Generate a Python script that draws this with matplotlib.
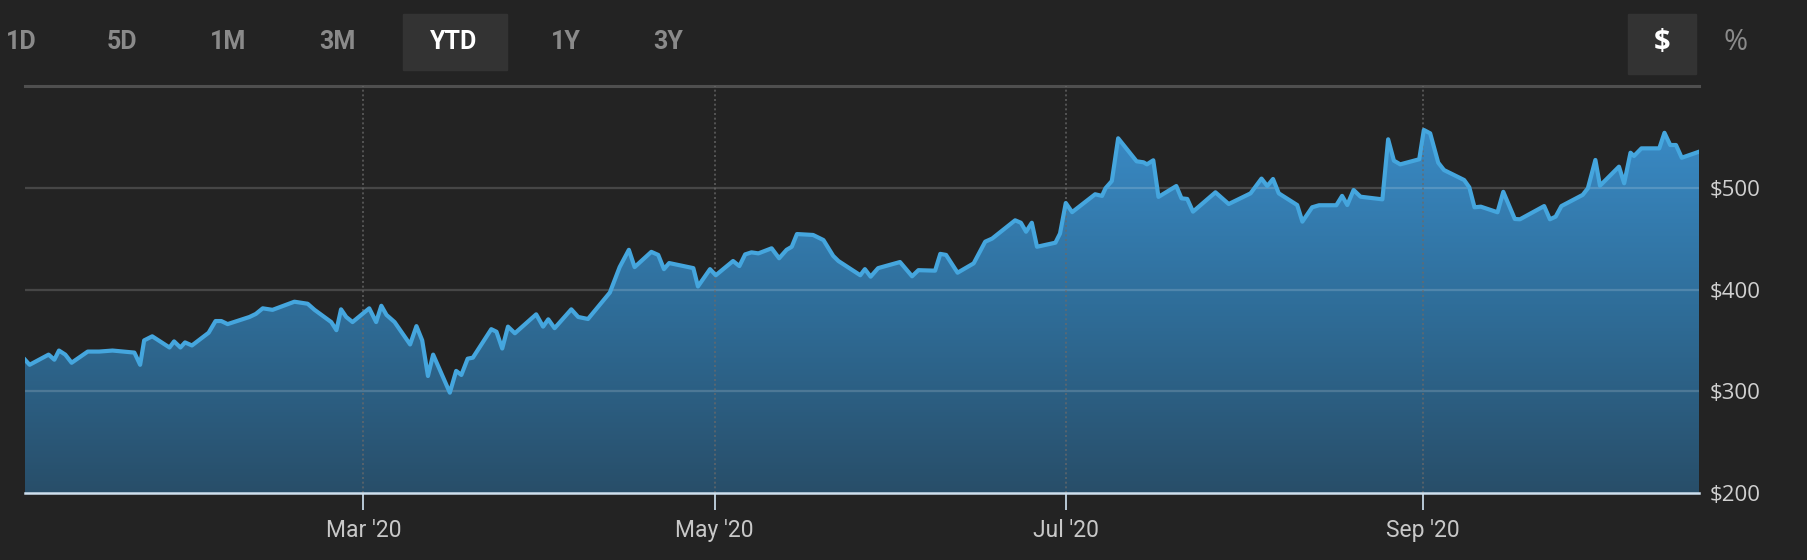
import matplotlib
matplotlib.use("Agg")
import matplotlib.pyplot as plt
import matplotlib.dates as mdates
from matplotlib.colors import LinearSegmentedColormap
from matplotlib.patches import Rectangle
import numpy as np
import pandas as pd

# day of year 2020 (Jan 1 = 0) and closing price
day = [1.2, 2.0, 5.3, 6.3, 7.1, 8.2, 9.3, 12.1, 14.1, 16.4, 20.2, 21.2, 21.9, 23.3,
       26.3, 27.1, 28.2, 29.0, 30.2, 33.1, 34.3, 35.3, 36.4, 40.2, 41.3, 42.5, 44.2,
       48.0, 50.3, 51.5, 54.4, 55.3, 56.1, 57.0, 58.1, 61.0, 62.2, 63.1, 64.0, 65.4,
       68.1, 69.2, 70.2, 71.2, 72.1, 75.0, 76.1, 77.0, 78.1, 79.0, 82.2, 83.1, 84.1,
       85.1, 86.3, 90.0, 91.2, 92.1, 93.2, 96.1, 97.3, 99.0, 102.8, 104.5, 106.1,
       107.1, 110.0, 111.2, 112.2, 113.1, 117.3, 118.1, 120.2, 121.2, 124.2, 125.3,
       126.3, 127.4, 128.6, 130.9, 132.2, 133.5, 134.4, 135.3, 138.1, 139.9, 141.6,
       142.5, 146.3, 147.1, 148.1, 149.4, 153.2, 155.3, 156.4, 159.3, 160.2, 161.2,
       163.2, 166.0, 168.0, 169.2, 173.2, 174.2, 175.1, 176.1, 177.0, 180.2, 181.0,
       182.0, 183.1, 187.1, 188.3, 188.9, 190.0, 191.1, 194.3, 195.5, 196.1, 197.2,
       198.1, 201.2, 202.1, 203.1, 204.1, 208.0, 210.3, 214.1, 216.0, 217.0, 218.0,
       219.0, 222.2, 223.1, 224.8, 226.0, 229.0, 230.0, 230.9, 232.0, 233.2, 237.0,
       238.0, 239.0, 240.1, 243.4, 244.2, 245.3, 246.7, 247.7, 251.2, 252.1, 253.0,
       254.1, 257.0, 258.0, 260.0, 260.9, 265.1, 266.1, 267.1, 268.1, 271.8, 272.7,
       274.0, 274.8, 278.1, 279.0, 280.1, 280.7, 282.0, 285.1, 286.0, 287.0, 288.0,
       289.0, 292.0]
price = [331, 326, 336, 331, 340, 336, 328, 339, 339, 340, 338, 326, 350, 354,
         343, 349, 343, 348, 345, 357.5, 369, 369, 366, 373, 376, 381.5, 380,
         388, 386, 380, 368, 360, 380.5, 373, 368, 381.5, 368, 384, 375, 368,
         346, 364, 350, 315, 336, 298.6, 320, 316, 332, 333, 361, 358.5, 342,
         363.5, 357, 375.6, 363.5, 370.7, 362, 380.5, 373, 371, 397, 422, 439,
         422, 437, 434, 420, 426, 421, 403, 420, 414, 428, 423,
         434.5, 436.5, 435.5, 440.5, 430.7, 439, 442, 454.5, 453.6, 448.6, 433,
         428, 414, 420, 412.6, 421, 427, 413, 419, 418.5, 435, 434,
         416.5, 425.7, 447, 450, 468, 465.6, 456.8, 465.6, 442, 446, 455,
         485, 476, 493.6, 492, 499.5, 506.6, 548.6, 526, 525, 523, 527,
         491, 501.7, 489.6, 489, 476.5, 495.5, 484, 494.5, 509, 501.7, 508.6,
         494.5, 483, 466.7, 480.8, 482.8, 482.8, 492, 483, 497.8, 491.2, 488.6,
         547.6, 526.6, 523, 528, 556.8, 553.5, 524.6, 517.4, 507.6, 500.4, 480.8,
         481.4, 475.9, 496, 469.3, 469, 482, 469, 471.6, 482, 493, 499.5,
         527.3, 502, 520.7, 504.4, 534.4, 531.2, 538.7, 538.7, 554, 542, 542,
         529.5, 535.4]

ranges = ["1D", "5D", "1M", "3M", "YTD", "1Y", "3Y"]
selected = "YTD"
y_ticks = [200, 300, 400, 500]

bg = "#232323"
dates = pd.Timestamp("2020-01-01") + pd.to_timedelta(day, unit="D")
xn = mdates.date2num(dates)

fig = plt.figure(figsize=(18.07, 5.60), dpi=100, facecolor=bg)
ax = fig.add_axes([25 / 1807, 1 - 493 / 560, 1674 / 1807, 407 / 560])
ax.set_facecolor(bg)
ax.set_xlim(xn[0], xn[-1])
ax.set_ylim(200, 600)

# gradient fill under the line
cmap = LinearSegmentedColormap.from_list("g", ["#284e69", "#2f6e9a", "#3a8cc8"])
grad = np.linspace(0, 1, 256).reshape(-1, 1)
im = ax.imshow(grad, cmap=cmap, origin="lower", aspect="auto",
               extent=[xn[0], xn[-1], 200, 570], zorder=1)
poly = ax.fill_between(xn, price, 200, facecolor="none", edgecolor="none")
im.set_clip_path(poly.get_paths()[0], transform=ax.transData)

# horizontal grid
for v in [300, 400, 500]:
    ax.axhline(v, color="white", alpha=0.16, lw=1.6, zorder=2)
ax.axhline(600, color="#4f4f4f", lw=2.2, zorder=2, clip_on=False)

ax.plot(xn, price, color="#45a6de", lw=3.0, zorder=4, solid_joinstyle="round")

ax.xaxis.set_major_locator(mdates.MonthLocator(bymonth=[3, 5, 7, 9]))
ax.xaxis.set_major_formatter(mdates.DateFormatter("%b '%y"))
for t in ax.get_xticks():
    ax.axvline(t, color="#6a6a6a", lw=1.2, ls=(0, (1.2, 1.6)), alpha=0.8, zorder=3)

ax.yaxis.tick_right()
ax.set_yticks(y_ticks)
ax.yaxis.set_major_formatter(plt.FuncFormatter(lambda v, p: f"${v:.0f}"))

for s in ["top", "left", "right"]:
    ax.spines[s].set_visible(False)
ax.spines["bottom"].set_color("#cfe0ee")
ax.spines["bottom"].set_linewidth(1.8)
ax.spines["bottom"].set_zorder(5)

ax.tick_params(axis="x", colors="#c8c8c8", length=12, width=1.4, pad=7)
ax.tick_params(axis="x", color="#b9c9d6")
ax.tick_params(axis="y", length=0, pad=8, labelcolor="#d0d0d0")
for lab in ax.get_xticklabels():
    lab.set_family(["Roboto", "DejaVu Sans"])
    lab.set_fontsize(16.5)
for lab in ax.get_yticklabels():
    lab.set_family(["Open Sans", "DejaVu Sans"])
    lab.set_fontsize(16)

# range buttons
btn_x = [21, 122, 228, 337, 454, 566, 668]
for name, bx in zip(ranges, btn_x):
    if name == selected:
        fig.patches.append(Rectangle((403 / 1807, 1 - 70 / 560), 104 / 1807, 56 / 560,
                                     transform=fig.transFigure, color="#333333"))
    fig.text(bx / 1807, 1 - 42 / 560, name, ha="center", va="center",
             fontsize=18, fontweight="bold", family=["Roboto", "DejaVu Sans"],
             color="white" if name == selected else "#8a8a8a")

fig.patches.append(Rectangle((1628 / 1807, 1 - 74 / 560), 68 / 1807, 60 / 560,
                             transform=fig.transFigure, color="#333333"))
fig.text(1662 / 1807, 1 - 43 / 560, "$", ha="center", va="center", fontsize=21,
         fontweight="bold", family=["Open Sans", "DejaVu Sans"], color="white")
fig.text(1736 / 1807, 1 - 43 / 560, "%", ha="center", va="center", fontsize=21,
         family=["Open Sans", "DejaVu Sans"], color="#8a8a8a")

fig.savefig("out.png", dpi=100, facecolor=bg)
